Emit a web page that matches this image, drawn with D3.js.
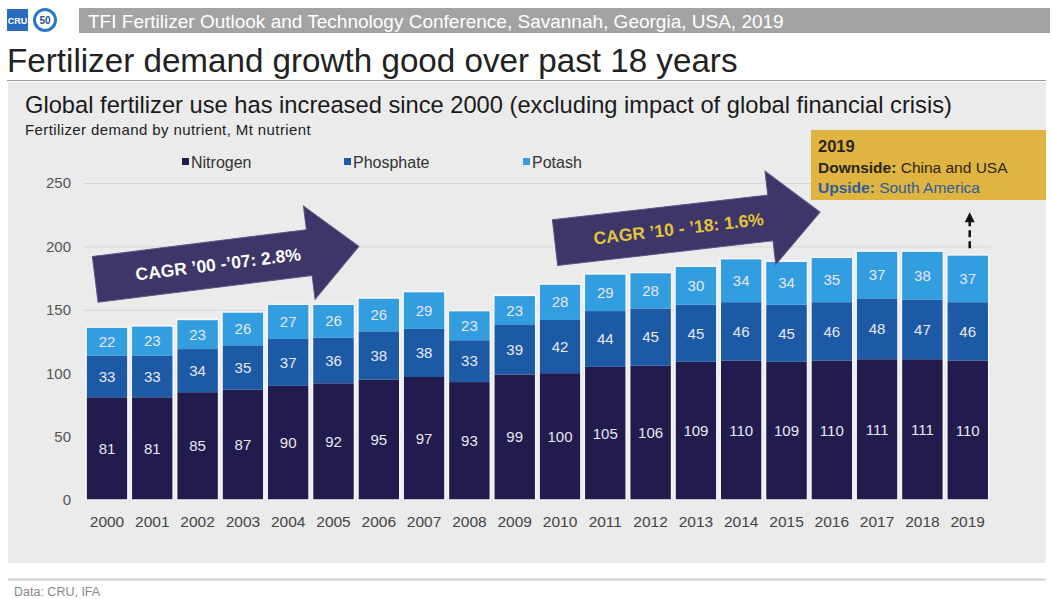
<!DOCTYPE html>
<html>
<head>
<meta charset="utf-8">
<script src="https://cdn.jsdelivr.net/npm/d3@7"></script>
<style>
  html, body { margin: 0; padding: 0; background: #ffffff; }
  svg { display: block; font-family: "Liberation Sans", Arial, sans-serif; }
</style>
</head>
<body>
<svg id="chart" width="1052" height="599"></svg>
<script>
// Fertilizer demand by nutrient, Mt nutrient
const years = ["2000","2001","2002","2003","2004","2005","2006","2007","2008","2009",
               "2010","2011","2012","2013","2014","2015","2016","2017","2018","2019"];
const nitrogen  = [81, 81, 85, 87, 90, 92, 95, 97, 93, 99, 100, 105, 106, 109, 110, 109, 110, 111, 111, 110];
const phosphate = [33, 33, 34, 35, 37, 36, 38, 38, 33, 39, 42, 44, 45, 45, 46, 45, 46, 48, 47, 46];
const potash    = [22, 23, 23, 26, 27, 26, 26, 29, 23, 23, 28, 29, 28, 30, 34, 34, 35, 37, 38, 37];
const seriesNames = ["Nitrogen", "Phosphate", "Potash"];
const yTicks = [0, 50, 100, 150, 200, 250];

// Growth-rate callouts: start/end expressed as (year index, value)
const cagrArrows = [
  { label: "CAGR \u201900 -\u201907: 2.8%", from: [-0.26, 174], to: [5.56, 200], textColor: "#ffffff" },
  { label: "CAGR \u201910 - \u201918: 1.6%", from: [9.89, 203], to: [15.74, 227], textColor: "#e3c43c" }
];

const colors = { Nitrogen: "#221b4e", Phosphate: "#1d5aa5", Potash: "#329ddf" };

const svg = d3.select("#chart");

// ---------- page furniture ----------
// logos
svg.append("rect").attr("x", 7).attr("y", 9).attr("width", 21).attr("height", 22)
  .attr("fill", "#2a6bbd");
svg.append("text").attr("x", 17.5).attr("y", 24).attr("text-anchor", "middle")
  .attr("font-size", 9).attr("font-weight", "bold").attr("fill", "#ffffff").text("CRU");
svg.append("circle").attr("cx", 45).attr("cy", 20).attr("r", 10.5)
  .attr("fill", "#ffffff").attr("stroke", "#2a78c8").attr("stroke-width", 3);
svg.append("text").attr("x", 45).attr("y", 24).attr("text-anchor", "middle")
  .attr("font-size", 10).attr("font-weight", "bold").attr("fill", "#1f4f9a").text("50");

// conference banner
svg.append("rect").attr("x", 79).attr("y", 8).attr("width", 971).attr("height", 25)
  .attr("fill", "#a3a3a3");
svg.append("text").attr("x", 88).attr("y", 28).attr("font-size", 19)
  .attr("fill", "#ffffff").text("TFI Fertilizer Outlook and Technology Conference, Savannah, Georgia, USA, 2019");

// headline
svg.append("text").attr("x", 7).attr("y", 72).attr("font-size", 33.2)
  .attr("fill", "#222222").text("Fertilizer demand growth good over past 18 years");
svg.append("line").attr("x1", 7).attr("x2", 1046).attr("y1", 80.5).attr("y2", 80.5)
  .attr("stroke", "#9a9a9a").attr("stroke-width", 1);

// chart panel
svg.append("rect").attr("x", 8).attr("y", 82).attr("width", 1038).attr("height", 481)
  .attr("fill", "#ebebeb");

svg.append("text").attr("x", 25).attr("y", 112.5).attr("font-size", 23.7)
  .attr("fill", "#1a1a1a")
  .text("Global fertilizer use has increased since 2000 (excluding impact of global financial crisis)");
svg.append("text").attr("x", 25).attr("y", 135).attr("font-size", 15)
  .attr("letter-spacing", 0.4)
  .attr("fill", "#222222").text("Fertilizer demand by nutrient, Mt nutrient");

// footer
svg.append("line").attr("x1", 8).attr("x2", 1046).attr("y1", 579.5).attr("y2", 579.5)
  .attr("stroke", "#cfcfcf").attr("stroke-width", 2);
svg.append("text").attr("x", 14).attr("y", 596).attr("font-size", 12.5)
  .attr("fill", "#8a8a8a").text("Data: CRU, IFA");

// ---------- scales ----------
const x = d3.scaleBand().domain(years).range([84, 990.7])
  .paddingInner(0.095).paddingOuter(0.055);
const y = d3.scaleLinear().domain([0, 250]).range([500, 183]);
const xAt = i => x(years[0]) + x.bandwidth() / 2 + i * x.step();

// gridlines
svg.append("g").attr("transform", "translate(84,0)")
  .call(d3.axisLeft(y).tickValues(yTicks).tickSize(-(990.7 - 84)).tickFormat(""))
  .call(g => g.select(".domain").remove())
  .call(g => g.selectAll("line").attr("stroke", "#d6d6d6").attr("stroke-width", 1));

// y axis labels
svg.append("g").attr("transform", "translate(71,0)")
  .call(d3.axisLeft(y).tickValues(yTicks).tickSize(0).tickPadding(0))
  .call(g => g.select(".domain").remove())
  .call(g => g.selectAll("text").attr("font-size", 15).attr("fill", "#555555")
    .attr("font-family", "Liberation Sans, Arial, sans-serif"));

// x axis labels
svg.append("g").attr("transform", "translate(0,500)")
  .call(d3.axisBottom(x).tickSize(0).tickPadding(16))
  .call(g => g.select(".domain").remove())
  .call(g => g.selectAll("text").attr("font-size", 15.5).attr("fill", "#444444")
    .attr("font-family", "Liberation Sans, Arial, sans-serif"));

// ---------- stacked bars ----------
const rows = years.map((yr, i) => ({ year: yr, Nitrogen: nitrogen[i], Phosphate: phosphate[i], Potash: potash[i] }));
const stacked = d3.stack().keys(seriesNames)(rows);

const barsG = svg.append("g");
stacked.forEach(layer => {
  barsG.append("g").attr("fill", colors[layer.key])
    .selectAll("rect").data(layer).join("rect")
    .attr("x", d => x(d.data.year))
    .attr("width", x.bandwidth())
    .attr("y", d => y(d[1]))
    .attr("height", d => y(d[0]) - y(d[1]));
});
// light outline round each full column
barsG.append("g").selectAll("rect").data(rows).join("rect")
  .attr("x", d => x(d.year) - 0.5)
  .attr("width", x.bandwidth() + 1)
  .attr("y", d => y(d.Nitrogen + d.Phosphate + d.Potash) - 0.5)
  .attr("height", d => y(0) - y(d.Nitrogen + d.Phosphate + d.Potash) + 0.5)
  .attr("fill", "none").attr("stroke", "#f7f7fa").attr("stroke-width", 1.5);

// value labels
stacked.forEach(layer => {
  svg.append("g").selectAll("text").data(layer).join("text")
    .attr("x", d => x(d.data.year) + x.bandwidth() / 2)
    .attr("y", d => y((d[0] + d[1]) / 2))
    .attr("dy", "0.35em")
    .attr("text-anchor", "middle")
    .attr("font-size", 15)
    .attr("fill", "#e8e8f2")
    .text(d => d.data[layer.key]);
});

// ---------- legend ----------
const legendX = [182, 344, 523];
const legend = svg.append("g");
seriesNames.forEach((name, i) => {
  legend.append("rect").attr("x", legendX[i]).attr("y", 158).attr("width", 7).attr("height", 7)
    .attr("fill", colors[name]);
  legend.append("text").attr("x", legendX[i] + 9).attr("y", 167.5).attr("font-size", 16)
    .attr("fill", "#333333").text(name);
});

// ---------- CAGR arrows ----------
cagrArrows.forEach(a => {
  const x0 = xAt(a.from[0]), y0 = y(a.from[1]);
  const x1 = xAt(a.to[0]),   y1 = y(a.to[1]);
  const len = Math.hypot(x1 - x0, y1 - y0);
  const ang = Math.atan2(y1 - y0, x1 - x0) * 180 / Math.PI;
  const bodyH = 46, headH = 94, headL = 50;
  const pts = [
    [0, -bodyH / 2], [len - headL, -bodyH / 2], [len - headL, -headH / 2], [len, 0],
    [len - headL, headH / 2], [len - headL, bodyH / 2], [0, bodyH / 2]
  ];
  const g = svg.append("g").attr("transform", `translate(${x0},${y0}) rotate(${ang})`);
  g.append("polygon").attr("points", pts.map(p => p.join(",")).join(" "))
    .attr("fill", "#3e3568").attr("stroke", "#5d5686").attr("stroke-width", 1);
  g.append("text").attr("x", (len - headL) / 2 + 16).attr("y", 0).attr("dy", "0.36em")
    .attr("text-anchor", "middle").attr("font-size", 17.5).attr("font-weight", "bold")
    .attr("fill", a.textColor).text(a.label);
});

// ---------- 2019 outlook box ----------
const box = svg.append("g");
box.append("rect").attr("x", 811).attr("y", 130).attr("width", 235).attr("height", 70)
  .attr("fill", "#e0b441");
box.append("text").attr("x", 818).attr("y", 152).attr("font-size", 16.5)
  .attr("font-weight", "bold").attr("fill", "#2b2518").text("2019");
const t1 = box.append("text").attr("x", 818).attr("y", 173).attr("font-size", 15.5).attr("fill", "#2b2518");
t1.append("tspan").attr("font-weight", "bold").text("Downside:");
t1.append("tspan").text(" China and USA");
const t2 = box.append("text").attr("x", 818).attr("y", 193).attr("font-size", 15.5).attr("fill", "#2f5c9a");
t2.append("tspan").attr("font-weight", "bold").text("Upside:");
t2.append("tspan").text(" South America");

// dashed upside arrow above 2019
const lastIdx = years.length - 1;
const ax = xAt(lastIdx) + 2;
const lastTotal = nitrogen[lastIdx] + phosphate[lastIdx] + potash[lastIdx];
const aBottom = y(lastTotal) - 7, aTop = y(227);
svg.append("line").attr("x1", ax).attr("x2", ax).attr("y1", aBottom).attr("y2", aTop + 9)
  .attr("stroke", "#111111").attr("stroke-width", 2.5).attr("stroke-dasharray", "7,4");
svg.append("polygon")
  .attr("points", `${ax - 5},${aTop + 10} ${ax + 5},${aTop + 10} ${ax},${aTop}`)
  .attr("fill", "#111111");
</script>
</body>
</html>
